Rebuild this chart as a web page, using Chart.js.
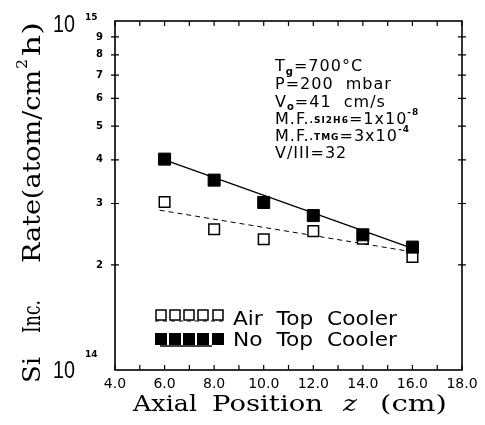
<!DOCTYPE html>
<html>
<head>
<meta charset="utf-8">
<script src="https://cdn.jsdelivr.net/npm/chart.js@4/dist/chart.umd.min.js"></script>
<style>
  html, body { margin: 0; padding: 0; background: #fff; }
</style>
</head>
<body>
<canvas id="chart" width="485" height="425"></canvas>
<script>
// axial position z (cm)
const positions = [6, 8, 10, 12, 14, 16];
// Si incorporation rate (atom/cm2 h)
const airTopCooler = [3.03e14, 2.53e14, 2.37e14, 2.50e14, 2.38e14, 2.11e14];
const noTopCooler  = [4.02e14, 3.50e14, 3.02e14, 2.77e14, 2.44e14, 2.25e14];
// fitted lines (end points)
const airFitX = [5.8, 16];
const airFitY = [2.87e14, 2.18e14];
const noFitX = [6, 16];
const noFitY = [4.00e14, 2.23e14];

const xTicks = [4, 5, 6, 7, 8, 9, 10, 11, 12, 13, 14, 15, 16, 17, 18];
const xTickLabels = ['4.0', '', '6.0', '', '8.0', '', '10.0', '', '12.0', '', '14.0', '', '16.0', '', '18.0'];
const yTicks = [1e14, 2e14, 3e14, 4e14, 5e14, 6e14, 7e14, 8e14, 9e14, 1e15];
const yTickLabels = ['', '2', '3', '4', '5', '6', '7', '8', '9', ''];

const toXY = (xs, ys) => xs.map((x, i) => ({ x, y: ys[i] }));

function fitText(ctx, text, x, y, w, font) {
  ctx.font = font;
  const m = ctx.measureText(text).width;
  ctx.save();
  ctx.translate(x, y);
  ctx.scale(w / m, 1);
  ctx.fillText(text, 0, 0);
  ctx.restore();
}

function drawRuns(ctx, x, y, runs) {
  for (const r of runs) {
    ctx.font = r.f;
    ctx.fillText(r.t, x, y + (r.dy || 0));
    x += ctx.measureText(r.t).width;
  }
}

const decor = {
  id: 'decor',
  afterDraw(chart) {
    const { ctx, chartArea: a, scales: { x, y } } = chart;
    ctx.save();
    ctx.strokeStyle = '#000';
    ctx.fillStyle = '#000';
    // frame
    ctx.lineWidth = 1.6;
    ctx.strokeRect(a.left, a.top, a.right - a.left, a.bottom - a.top);
    // ticks
    ctx.lineWidth = 1.2;
    ctx.beginPath();
    xTicks.forEach(v => {
      const px = x.getPixelForValue(v);
      ctx.moveTo(px, a.bottom); ctx.lineTo(px, a.bottom - 5);
      ctx.moveTo(px, a.top); ctx.lineTo(px, a.top + 5);
    });
    yTicks.slice(1, -1).forEach(v => {
      const py = y.getPixelForValue(v);
      ctx.moveTo(a.left - 4, py); ctx.lineTo(a.left + 4, py);
      ctx.moveTo(a.right - 4, py); ctx.lineTo(a.right + 4, py);
    });
    ctx.stroke();

    ctx.textBaseline = 'alphabetic';
    ctx.textAlign = 'left';

    // decade labels
    fitText(ctx, '10', 53, 32, 22, '23px "Liberation Sans"');
    ctx.font = 'bold 9px "DejaVu Sans"';
    ctx.fillText('15', 85, 20);
    fitText(ctx, '10', 53, 378, 22, '23px "Liberation Sans"');
    ctx.font = 'bold 9px "DejaVu Sans"';
    ctx.fillText('14', 85, 357);

    // x title
    const serif = '22px "DejaVu Serif"';
    fitText(ctx, 'Axial', 133, 411, 64, serif);
    fitText(ctx, 'Position', 212, 411, 111, serif);
    fitText(ctx, 'z', 343, 411, 14, 'italic 22px "DejaVu Serif"');
    fitText(ctx, '(cm)', 380, 411, 67, serif);

    // y title (rotated)
    ctx.save();
    ctx.translate(40, 383);
    ctx.rotate(-Math.PI / 2);
    const yserif = '24px "DejaVu Serif"';
    fitText(ctx, 'Si', 0, 0, 26, yserif);
    fitText(ctx, 'Inc.', 50, 0, 33, yserif);
    fitText(ctx, 'Rate(atom/cm', 120, 0, 193, yserif);
    fitText(ctx, '2', 314, -13, 10, '15px "DejaVu Serif"');
    fitText(ctx, 'h)', 327, 0, 34, yserif);
    ctx.restore();

    // conditions
    const main = '16px "DejaVu Sans"';
    const sub = 'bold 9px "DejaVu Sans"';
    ctx.letterSpacing = '1px';
    drawRuns(ctx, 275, 71, [{ t: 'T', f: main }, { t: 'g', f: 'bold 10px "DejaVu Sans"', dy: 4 }, { t: '=700°C', f: main }]);
    drawRuns(ctx, 275, 89, [{ t: 'P=200  mbar', f: main }]);
    drawRuns(ctx, 275, 107, [{ t: 'V', f: main }, { t: 'o', f: 'bold 10px "DejaVu Sans"', dy: 3 }, { t: '=41  cm/s', f: main }]);
    drawRuns(ctx, 275, 124, [{ t: 'M.F.', f: main }, { t: '.SI2H6', f: sub, dy: -1 }, { t: '=1x10', f: main }, { t: '-8', f: sub, dy: -9 }]);
    drawRuns(ctx, 275, 141, [{ t: 'M.F.', f: main }, { t: '.TMG', f: sub, dy: -1 }, { t: '=3x10', f: main }, { t: '-4', f: sub, dy: -9 }]);
    drawRuns(ctx, 275, 158, [{ t: 'V/III=32', f: main }]);
    ctx.letterSpacing = '0px';

    // legend
    const cx = [161, 175, 189, 203, 218];
    ctx.lineWidth = 1;
    ctx.setLineDash([4, 4]);
    ctx.beginPath(); ctx.moveTo(155, 321); ctx.lineTo(224, 321); ctx.stroke();
    ctx.setLineDash([]);
    ctx.lineWidth = 1.5;
    ctx.beginPath(); ctx.moveTo(160, 346); ctx.lineTo(212, 346); ctx.stroke();
    cx.forEach(c => {
      ctx.fillStyle = '#fff';
      ctx.fillRect(c - 5, 310, 10, 10);
      ctx.strokeRect(c - 5, 310, 10, 10);
      ctx.fillStyle = '#000';
      ctx.fillRect(c - 6, 333, 12, 12);
    });
    fitText(ctx, 'Air  Top  Cooler', 233, 325, 164, '19px "DejaVu Sans"');
    fitText(ctx, 'No  Top  Cooler', 233, 346, 164, '19px "DejaVu Sans"');
    ctx.restore();
  }
};

new Chart(document.getElementById('chart'), {
  type: 'scatter',
  data: {
    datasets: [
      {
        label: 'No Top Cooler',
        data: toXY(positions, noTopCooler),
        pointStyle: 'rect',
        pointRadius: 8.5,
        backgroundColor: '#000',
        borderColor: '#000',
        borderWidth: 1
      },
      {
        label: 'Air Top Cooler',
        data: toXY(positions, airTopCooler),
        pointStyle: 'rect',
        pointRadius: 7.5,
        backgroundColor: '#fff',
        borderColor: '#000',
        borderWidth: 1.5
      },
      {
        label: 'fit no cooler',
        data: toXY(noFitX, noFitY),
        showLine: true,
        pointRadius: 0,
        borderColor: '#000',
        borderWidth: 1.3
      },
      {
        label: 'fit air cooler',
        data: toXY(airFitX, airFitY),
        showLine: true,
        pointRadius: 0,
        borderColor: '#000',
        borderWidth: 1,
        borderDash: [5, 4]
      }
    ]
  },
  options: {
    responsive: false,
    animation: false,
    devicePixelRatio: 1,
    layout: { padding: { left: 0, right: 23, top: 21, bottom: 0 } },
    plugins: { legend: { display: false }, tooltip: { enabled: false } },
    scales: {
      x: {
        type: 'linear',
        min: 4,
        max: 18,
        afterFit: s => { s.height = 55; },
        afterBuildTicks: s => { s.ticks = xTicks.map(v => ({ value: v })); },
        grid: { display: false, drawTicks: false },
        border: { display: false },
        ticks: {
          autoSkip: false,
          maxRotation: 0,
          padding: 6,
          color: '#000',
          font: { family: 'DejaVu Sans', size: 14 },
          callback: (v, i) => xTickLabels[i]
        }
      },
      y: {
        type: 'logarithmic',
        min: 1e14,
        max: 1e15,
        afterFit: s => { s.width = 115; },
        afterBuildTicks: s => { s.ticks = yTicks.map(v => ({ value: v })); },
        grid: { display: false, drawTicks: false },
        border: { display: false },
        ticks: {
          autoSkip: false,
          padding: 12,
          color: '#000',
          font: { family: 'DejaVu Sans', size: 10, weight: 'bold' },
          callback: (v, i) => yTickLabels[i]
        }
      }
    }
  },
  plugins: [decor]
});
</script>
</body>
</html>
